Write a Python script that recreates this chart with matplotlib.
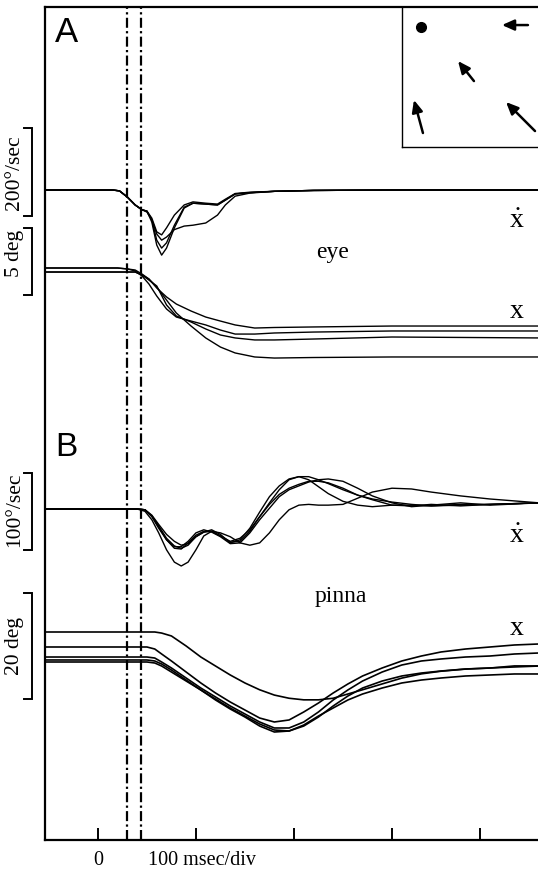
import numpy as np
import matplotlib
matplotlib.use("Agg")
import matplotlib.pyplot as plt
from matplotlib.transforms import blended_transform_factory

plt.rcParams['font.family'] = ['Liberation Serif', 'DejaVu Serif']
plt.rcParams['mathtext.fontset'] = 'custom'
plt.rcParams['mathtext.rm'] = 'Liberation Serif'

# ---- data (time in msec, values in physical units) ----
# eye velocity (deg/sec)
t_eye_vel = [-55, 15, 22, 30, 38, 45, 50, 55, 60, 65, 70, 78, 88, 97, 110, 122, 130, 140, 155, 180, 220, 300, 450]
eye_vel_1 = [0, 0, -2, -16, -34, -45, -48, -73, -125, -148, -132, -86, -41, -30, -32, -34, -23, -9, -6, -3, -1, 0, 0]
eye_vel_2 = [0, 0, -2, -16, -34, -45, -48, -68, -114, -132, -120, -80, -39, -30, -32, -34, -23, -9, -6, -3, -1, 0, 0]
eye_vel_3 = [0, 0, -2, -16, -34, -45, -50, -68, -100, -114, -107, -90, -82, -80, -75, -57, -34, -14, -7, -3, -1, 0, 0]
eye_vel_4 = [0, 0, -2, -16, -34, -45, -48, -64, -95, -102, -86, -57, -34, -27, -30, -32, -21, -8, -5, -3, -1, 0, 0]

# eye position (deg)
t_eye_pos = [-55, 20, 30, 38, 45, 52, 60, 70, 80, 95, 110, 125, 140, 160, 180, 220, 300, 450]
eye_pos_1 = [0, 0, -0.07, -0.15, -0.45, -0.82, -1.49, -2.16, -2.69, -3.21, -3.66, -3.96, -4.25, -4.48, -4.44, -4.40, -4.33, -4.33]
eye_pos_2 = [0, 0, -0.07, -0.22, -0.6, -1.19, -2.09, -3.06, -3.66, -3.96, -4.25, -4.63, -4.93, -4.93, -4.85, -4.78, -4.7, -4.7]
eye_pos_3 = [-0.3, -0.3, -0.3, -0.3, -0.52, -0.9, -1.34, -2.76, -3.58, -4.03, -4.55, -5.0, -5.22, -5.37, -5.37, -5.3, -5.15, -5.22]
eye_pos_4 = [-0.3, -0.3, -0.3, -0.3, -0.52, -0.82, -1.42, -2.39, -3.36, -4.33, -5.22, -5.9, -6.34, -6.64, -6.72, -6.68, -6.64, -6.64]

# pinna velocity (deg/sec)
t_pin_vel = [-55, 40, 48, 55, 62, 70, 78, 85, 92, 100, 108, 116, 125, 135, 145, 155, 165, 175, 185, 195,
             205, 215, 225, 235, 250, 265, 280, 300, 320, 340, 370, 400, 450]
pin_vel_1 = [0, 0, -3, -14, -31, -53, -69, -74, -69, -53, -35, -29, -35, -42, -38, -27, -10, 8, 25, 38,
             42, 42, 38, 33, 25, 18, 13, 9, 6, 4, 5, 6, 8]
pin_vel_2 = [0, 0, -1, -9, -22, -38, -48, -51, -47, -36, -30, -27, -33, -44, -40, -25, -4, 16, 30, 39,
             42, 38, 29, 20, 10, 5, 3, 5, 4, 6, 4, 6, 8]
pin_vel_3 = [0, 0, -1, -10, -25, -40, -49, -49, -42, -31, -27, -30, -36, -45, -44, -31, -14, 1, 16, 25,
             30, 35, 38, 39, 36, 27, 17, 8, 3, 5, 8, 5, 8]
pin_vel_4 = [0, 0, -1, -8, -20, -33, -42, -47, -45, -36, -30, -29, -31, -36, -44, -47, -44, -31, -14, -1,
             5, 6, 5, 5, 6, 14, 22, 27, 26, 22, 17, 13, 8]
pin_vel_5 = [0, 0, -1, -9, -23, -40, -51, -52, -44, -34, -29, -29, -35, -43, -42, -29, -10, 6, 19, 27,
             32, 36, 36, 34, 27, 18, 12, 5, 5, 4, 6, 6, 8]

# pinna position (deg)
t_pin_pos = [-55, 50, 58, 65, 75, 90, 105, 120, 135, 150, 165, 180, 195, 210, 225, 240, 255, 270, 290,
             310, 330, 350, 375, 400, 425, 450]
pin_pos_1 = [0, 0, 0, -0.2, -0.75, -2.64, -4.72, -6.42, -8.11, -9.62, -10.9, -11.9, -12.5, -12.8, -12.8,
             -12.5, -11.7, -10.9, -9.8, -8.7, -7.9, -7.4, -7.0, -6.8, -6.4, -6.4]
pin_pos_2 = [-2.83, -2.83, -3.21, -4.15, -5.47, -7.55, -9.62, -11.51, -13.21, -14.72, -16.23, -16.98, -16.6,
             -15.09, -13.4, -11.51, -9.81, -8.3, -6.79, -5.47, -4.53, -3.77, -3.21, -2.83, -2.45, -2.26]
pin_pos_3 = [-4.72, -4.72, -4.91, -5.66, -6.79, -8.68, -10.57, -12.26, -13.96, -15.47, -16.98, -18.11, -18.11,
             -16.98, -15.09, -12.83, -10.94, -9.25, -7.55, -6.23, -5.47, -5.09, -4.72, -4.53, -4.15, -3.96]
pin_pos_4 = [-5.28, -5.28, -5.47, -6.04, -7.17, -9.06, -10.94, -12.64, -14.34, -15.85, -17.36, -18.49, -18.68,
             -17.74, -16.04, -13.96, -12.08, -10.57, -9.25, -8.3, -7.74, -7.36, -6.98, -6.79, -6.6, -6.42]
pin_pos_5 = [-5.66, -5.66, -5.85, -6.42, -7.55, -9.25, -10.94, -12.83, -14.53, -16.04, -17.74, -18.87, -18.68,
             -17.55, -15.85, -14.34, -12.83, -11.7, -10.57, -9.62, -9.06, -8.68, -8.3, -8.11, -7.92, -7.92]

markers_t = [30, 44]           # dash-dot reference lines (msec)
tick_t = [0, 100, 200, 300, 390]

# inset: target dot and head direction arrows (tail -> head, in inset units)
dot_xy = (0.14, 0.857)
arrow_tails = [(0.926, 0.871), (0.529, 0.471), (0.154, 0.10), (0.978, 0.114)]
arrow_heads = [(0.735, 0.871), (0.412, 0.614), (0.088, 0.336), (0.765, 0.321)]

# ---- layout: each channel = (baseline row, rows per unit) ----
EV = (190, 0.44)
EP = (268, 13.4)
PV = (509, 0.77)
PP = (632, 5.3)


def rows(values, chan):
    base, gain = chan
    return base - gain * np.asarray(values, dtype=float)


fig = plt.figure(figsize=(5.38, 8.71), dpi=100)
ax = fig.add_axes([45 / 538, 31 / 871, 493 / 538, 833 / 871])
ax.set_xlim(-54, 449)
ax.set_ylim(840, 7)

for s in ['left', 'top', 'bottom']:
    ax.spines[s].set_linewidth(1.6)
ax.spines['right'].set_visible(False)
ax.set_yticks([])
ax.set_xticks(tick_t)
ax.set_xticklabels([])
ax.tick_params(axis='x', direction='in', length=8.5, width=1.4, top=False)

lw = 1.0
for tr in [eye_vel_4, eye_vel_3, eye_vel_2, eye_vel_1]:
    ax.plot(t_eye_vel, rows(tr, EV), color='black', lw=lw)
for tr in [eye_pos_1, eye_pos_2, eye_pos_3, eye_pos_4]:
    ax.plot(t_eye_pos, rows(tr, EP), color='black', lw=lw)
for tr in [pin_vel_1, pin_vel_2, pin_vel_3, pin_vel_4, pin_vel_5]:
    ax.plot(t_pin_vel, rows(tr, PV), color='black', lw=lw)
for tr in [pin_pos_1, pin_pos_2, pin_pos_3, pin_pos_4, pin_pos_5]:
    ax.plot(t_pin_pos, rows(tr, PP), color='black', lw=1.2)

for t in markers_t:
    ax.axvline(t, color='black', lw=1.6, linestyle=(0, (4.5, 1.5, 1.0, 1.5)))

# panel letters and labels
ax.text(-44, 42, 'A', family=['Liberation Sans'], fontsize=25, ha='left', va='baseline')
ax.text(-44, 456, 'B', family=['Liberation Sans'], fontsize=24, ha='left', va='baseline')
ax.text(239, 258, 'eye', fontsize=17, ha='center', va='baseline')
ax.text(248, 602, 'pinna', fontsize=17, ha='center', va='baseline')
ax.text(427, 228, r'$\dot{\mathrm{x}}$', fontsize=20, ha='center', va='baseline')
ax.text(427, 318, 'x', fontsize=20, ha='center', va='baseline')
ax.text(427, 543, r'$\dot{\mathrm{x}}$', fontsize=20, ha='center', va='baseline')
ax.text(427, 635, 'x', fontsize=20, ha='center', va='baseline')
ax.text(0, 865, '0', fontsize=14.5, ha='center', va='baseline')
ax.text(51, 865, '100 msec/div', fontsize=14.5, ha='left', va='baseline')

# calibration brackets
trans = blended_transform_factory(ax.transAxes, ax.transData)
bars = [(EV, -59, 200, '200°/sec', 173),
        (EP, -2, 5, '5 deg', 253),
        (PV, -53, 100, '100°/sec', 510),
        (PP, -12.6, 20, '20 deg', 646)]
for chan, lo, size, label, text_row in bars:
    y0, y1 = rows([lo, lo + size], chan)
    ax.plot([-0.043, -0.0264, -0.0264, -0.043], [y0, y0, y1, y1], color='black', lw=1.4,
            transform=trans, clip_on=False, solid_joinstyle='miter')
    ax.text(-0.061, text_row, label, rotation=90, fontsize=15.5, ha='center', va='center',
            transform=trans)

# inset with stimulus/head direction sketch
ins = fig.add_axes([402 / 538, (871 - 147) / 871, 136 / 538, 140 / 871])
ins.set_xlim(0, 1)
ins.set_ylim(0, 1)
ins.set_xticks([])
ins.set_yticks([])
ins.spines['right'].set_visible(False)
ins.spines['top'].set_visible(False)
ins.spines['left'].set_linewidth(1.0)
ins.spines['bottom'].set_linewidth(1.0)
ins.patch.set_alpha(0)
ins.plot(*dot_xy, 'o', color='black', markersize=7)
for tail, head in zip(arrow_tails, arrow_heads):
    ins.annotate('', xy=head, xytext=tail,
                 arrowprops=dict(arrowstyle='-|>,head_length=0.45,head_width=0.2', color='black',
                                 lw=1.8, mutation_scale=16, shrinkA=0, shrinkB=0))

fig.savefig('out.png', dpi=100)
